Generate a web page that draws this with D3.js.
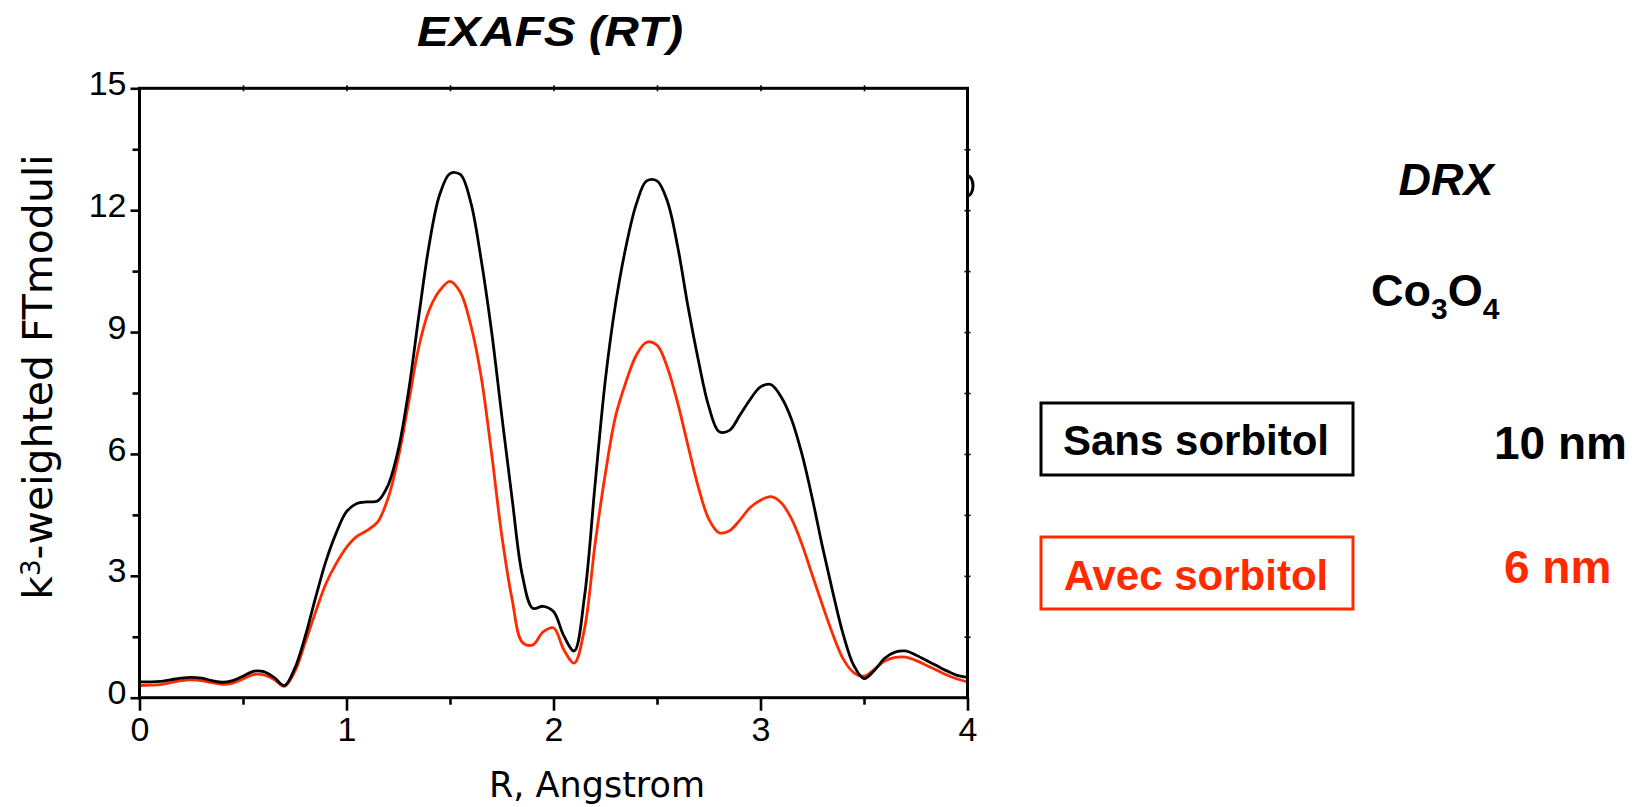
<!DOCTYPE html>
<html>
<head>
<meta charset="utf-8">
<title>EXAFS (RT)</title>
<script src="https://cdn.jsdelivr.net/npm/d3@7"></script>
<style>
  html, body { margin: 0; padding: 0; background: #ffffff; }
  svg { display: block; }
</style>
</head>
<body>
<svg id="chart" width="1635" height="807"></svg>
<script>
// Distance R (Angstrom) at which the two Fourier-transform moduli are sampled
const R = [
  0.00, 0.05, 0.10, 0.15, 0.20, 0.25, 0.30, 0.35, 0.40, 0.45,
  0.50, 0.55, 0.60, 0.65, 0.70, 0.75, 0.80, 0.85, 0.90, 0.95,
  1.00, 1.05, 1.10, 1.15, 1.20, 1.25, 1.30, 1.35, 1.40, 1.45,
  1.50, 1.55, 1.60, 1.65, 1.70, 1.75, 1.80, 1.85, 1.90, 1.95,
  2.00, 2.05, 2.10, 2.15, 2.20, 2.25, 2.30, 2.35, 2.40, 2.45,
  2.50, 2.55, 2.60, 2.65, 2.70, 2.75, 2.80, 2.85, 2.90, 2.95,
  3.00, 3.05, 3.10, 3.15, 3.20, 3.25, 3.30, 3.35, 3.40, 3.45,
  3.50, 3.55, 3.60, 3.65, 3.70, 3.75, 3.80, 3.85, 3.90, 3.95,
  4.00
];

// k3-weighted FT modulus, sample prepared without sorbitol (10 nm Co3O4)
const sansSorbitol = [
  0.39, 0.39, 0.40, 0.44, 0.48, 0.50, 0.48, 0.42, 0.38, 0.42,
  0.53, 0.65, 0.64, 0.50, 0.30, 0.72, 1.50, 2.45, 3.35, 4.05,
  4.58, 4.78, 4.82, 4.84, 5.22, 6.10, 7.55, 9.42, 11.17, 12.38,
  12.90, 12.88, 12.20, 10.80, 9.05, 6.95, 4.90, 3.00, 2.20, 2.25,
  2.12, 1.52, 1.15, 2.50, 5.20, 7.80, 9.70, 11.10, 12.15, 12.72,
  12.72, 12.22, 11.10, 9.62, 8.30, 7.17, 6.55, 6.58, 6.95, 7.34,
  7.65, 7.71, 7.40, 6.85, 6.00, 4.91, 3.70, 2.58, 1.55, 0.80,
  0.47, 0.67, 0.97, 1.12, 1.15, 1.05, 0.92, 0.79, 0.66, 0.55,
  0.50
];

// k3-weighted FT modulus, sample prepared with sorbitol (6 nm Co3O4)
const avecSorbitol = [
  0.30, 0.31, 0.32, 0.37, 0.42, 0.44, 0.42, 0.37, 0.33, 0.36,
  0.46, 0.57, 0.56, 0.45, 0.28, 0.64, 1.35, 2.10, 2.80, 3.30,
  3.70, 3.97, 4.12, 4.32, 4.90, 5.90, 7.26, 8.65, 9.55, 10.02,
  10.25, 9.98, 9.18, 7.92, 6.05, 4.00, 2.42, 1.36, 1.30, 1.62,
  1.72, 1.18, 0.85, 1.70, 3.75, 5.50, 6.93, 7.77, 8.43, 8.75,
  8.68, 8.13, 7.25, 6.20, 5.18, 4.40, 4.06, 4.11, 4.37, 4.68,
  4.86, 4.95, 4.80, 4.40, 3.78, 3.02, 2.27, 1.55, 0.95, 0.62,
  0.53, 0.70, 0.90, 0.99, 1.00, 0.92, 0.80, 0.68, 0.56, 0.46,
  0.39
];

// Axis ticks
const xTicks = [0, 1, 2, 3, 4];
const xMinorTicks = [0.5, 1.5, 2.5, 3.5];
const yTicks = [0, 3, 6, 9, 12, 15];
const yMinorTicks = [1.5, 4.5, 7.5, 10.5, 13.5];
const topFrameTicks = [0.5, 1, 1.5, 2, 2.5, 3, 3.5];
const rightFrameTicks = [1.5, 3, 4.5, 6, 7.5, 9, 10.5, 12, 13.5];

// Legend and side annotations
const seriesNames = ["Sans sorbitol", "Avec sorbitol"];
const crystalliteSizes = ["10 nm", "6 nm"];

const RED = "#ff2a00";
const BLACK = "#000000";
const TICK_FONT = "'Liberation Sans', Arial, Helvetica, sans-serif";
const LABEL_FONT = "'DejaVu Sans', Verdana, sans-serif";
const BOLD_FONT = "'Liberation Sans', Arial, Helvetica, sans-serif";

const svg = d3.select("#chart");

const plot = { left: 139.5, right: 967.5, top: 88.3, bottom: 697.7 };

const x = d3.scaleLinear().domain([0, 4]).range([plot.left, plot.right]);
const y = d3.scaleLinear().domain([0, 15]).range([plot.bottom, plot.top]);

// ---- curves ----
const line = d3.line()
  .x(d => x(d[0]))
  .y(d => y(d[1]))
  .curve(d3.curveCatmullRom.alpha(0.5));

const series = [
  { values: avecSorbitol, color: RED },
  { values: sansSorbitol, color: BLACK }
];

svg.append("g")
  .selectAll("path")
  .data(series)
  .join("path")
  .attr("d", s => line(R.map((r, i) => [r, s.values[i]])))
  .attr("fill", "none")
  .attr("stroke", s => s.color)
  .attr("stroke-width", 2.8)
  .attr("stroke-linejoin", "round");

// ---- axes ----
function styleAxis(g) {
  g.select(".domain").remove();
  g.selectAll(".tick line").attr("stroke", BLACK).attr("stroke-width", 2.6);
  g.selectAll(".tick text")
    .attr("fill", BLACK)
    .style("font-family", TICK_FONT)
    .style("font-size", "34px");
}

// bottom, major + minor
svg.append("g")
  .attr("transform", `translate(0,${plot.bottom})`)
  .call(d3.axisBottom(x).tickValues(xTicks).tickFormat(d3.format("d"))
        .tickSize(13).tickPadding(6).tickSizeOuter(0))
  .call(styleAxis);
svg.append("g")
  .attr("transform", `translate(0,${plot.bottom})`)
  .call(d3.axisBottom(x).tickValues(xMinorTicks).tickFormat("")
        .tickSize(7).tickSizeOuter(0))
  .call(styleAxis);

// left, major + minor
const yAxisG = svg.append("g")
  .attr("transform", `translate(${plot.left},0)`)
  .call(d3.axisLeft(y).tickValues(yTicks).tickFormat(d3.format("d"))
        .tickSize(9).tickPadding(4).tickSizeOuter(0))
  .call(styleAxis);
yAxisG.selectAll(".tick text").attr("dy", "0.18em");
svg.append("g")
  .attr("transform", `translate(${plot.left},0)`)
  .call(d3.axisLeft(y).tickValues(yMinorTicks).tickFormat("")
        .tickSize(7).tickSizeOuter(0))
  .call(styleAxis);

// top and right mirror ticks
svg.append("g")
  .attr("transform", `translate(0,${plot.top + 3})`)
  .call(d3.axisTop(x).tickValues(topFrameTicks).tickFormat("")
        .tickSize(6).tickSizeOuter(0))
  .call(styleAxis)
  .selectAll(".tick line").attr("stroke-width", 1.6);
svg.append("g")
  .attr("transform", `translate(${plot.right - 3},0)`)
  .call(d3.axisRight(y).tickValues(rightFrameTicks).tickFormat("")
        .tickSize(6).tickSizeOuter(0))
  .call(styleAxis)
  .selectAll(".tick line").attr("stroke-width", 1.6);

// frame
svg.append("rect")
  .attr("x", plot.left)
  .attr("y", plot.top)
  .attr("width", plot.right - plot.left)
  .attr("height", plot.bottom - plot.top)
  .attr("fill", "none")
  .attr("stroke", BLACK)
  .attr("stroke-width", 3);

// small glyph fragment peeking out at the right edge of the frame
svg.append("clipPath").attr("id", "edgeClip")
  .append("rect")
  .attr("x", plot.right + 1.5).attr("y", plot.top + 70)
  .attr("width", 12).attr("height", 50);
svg.append("ellipse")
  .attr("clip-path", "url(#edgeClip)")
  .attr("cx", plot.right)
  .attr("cy", plot.top + 97.5)
  .attr("rx", 5.5).attr("ry", 10)
  .attr("fill", "none")
  .attr("stroke", BLACK)
  .attr("stroke-width", 3);

// ---- axis titles ----
svg.append("text")
  .attr("x", 597).attr("y", 797)
  .attr("text-anchor", "middle")
  .style("font-family", LABEL_FONT)
  .style("font-size", "35px")
  .text("R, Angstrom");

const yTitle = svg.append("text")
  .attr("transform", "translate(52,377) rotate(-90)")
  .attr("text-anchor", "middle")
  .style("font-family", LABEL_FONT)
  .style("font-size", "41px");
yTitle.append("tspan").text("k");
yTitle.append("tspan").attr("dy", "-0.45em").style("font-size", "26px").text("3");
yTitle.append("tspan").attr("dy", "0.29em").text("-weighted FTmoduli");

// ---- chart title ----
svg.append("text")
  .attr("x", 550).attr("y", 46)
  .attr("text-anchor", "middle")
  .attr("textLength", 266)
  .attr("lengthAdjust", "spacingAndGlyphs")
  .style("font-family", BOLD_FONT)
  .style("font-weight", "bold")
  .style("font-style", "italic")
  .style("font-size", "43px")
  .text("EXAFS (RT)");

// ---- DRX annotations ----
svg.append("text")
  .attr("x", 1446).attr("y", 195)
  .attr("text-anchor", "middle")
  .style("font-family", BOLD_FONT)
  .style("font-weight", "bold")
  .style("font-style", "italic")
  .style("font-size", "45px")
  .text("DRX");

const formula = svg.append("text")
  .attr("x", 1371).attr("y", 306)
  .style("font-family", BOLD_FONT)
  .style("font-weight", "bold")
  .style("font-size", "45px");
formula.append("tspan").text("Co");
formula.append("tspan").attr("dy", 13).style("font-size", "30px").text("3");
formula.append("tspan").attr("dy", -13).text("O");
formula.append("tspan").attr("dy", 13).style("font-size", "30px").text("4");

// legend boxes
const legend = [
  { name: seriesNames[0], size: crystalliteSizes[0], color: BLACK, boxY: 403, textY: 455, sizeX: 1494, sizeY: 459 },
  { name: seriesNames[1], size: crystalliteSizes[1], color: RED,   boxY: 537, textY: 590, sizeX: 1504, sizeY: 583 }
];

const lg = svg.append("g").selectAll("g").data(legend).join("g");
lg.append("rect")
  .attr("x", 1041).attr("y", d => d.boxY)
  .attr("width", 312).attr("height", 72)
  .attr("fill", "none")
  .attr("stroke", d => d.color)
  .attr("stroke-width", 3);
lg.append("text")
  .attr("x", 1196).attr("y", d => d.textY)
  .attr("text-anchor", "middle")
  .attr("fill", d => d.color)
  .style("font-family", BOLD_FONT)
  .style("font-weight", "bold")
  .style("font-size", "42px")
  .text(d => d.name);
lg.append("text")
  .attr("x", d => d.sizeX).attr("y", d => d.sizeY)
  .attr("fill", d => d.color)
  .style("font-family", BOLD_FONT)
  .style("font-weight", "bold")
  .style("font-size", "46px")
  .text(d => d.size);
</script>
</body>
</html>
